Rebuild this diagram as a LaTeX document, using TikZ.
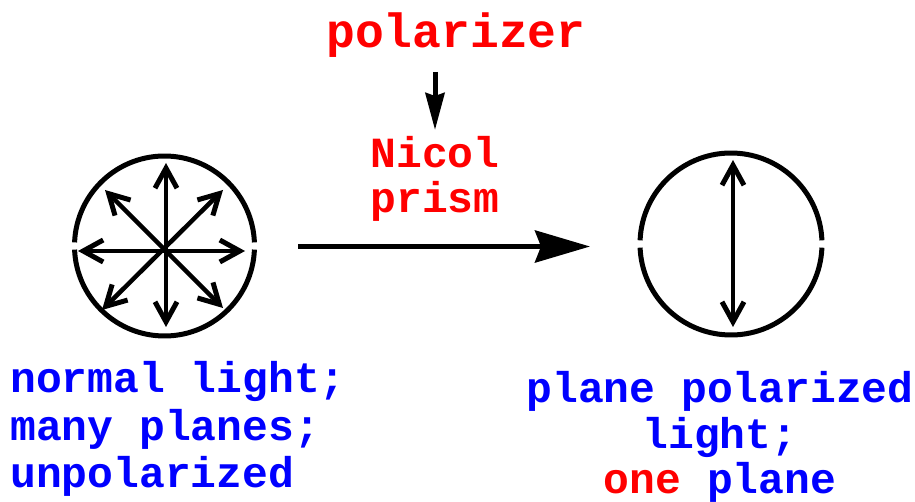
\documentclass[tikz,border=0pt]{standalone}
\usepackage{fontspec}
\setmainfont{Liberation Mono}
\usetikzlibrary{arrows.meta}
\definecolor{pblue}{RGB}{0,0,255}
\definecolor{pred}{RGB}{255,0,0}
\tikzset{
  lbl/.style={inner sep=0pt, font=\bfseries\fontsize{43}{47}\selectfont},
  bluelbl/.style={lbl, text=pblue},
  redlbl/.style={lbl, text=pred},
  ring/.style={line width=5pt, line cap=butt},
  ray/.style={line width=4.5pt, {Straight Barb[length=20pt,width=22pt,line width=5pt]}-{Straight Barb[length=20pt,width=22pt,line width=5pt]}},
  bigarrow/.style={line width=5pt, -{Stealth[length=55pt,width=32pt,inset=6pt]}},
  smallarrow/.style={line width=5pt, -{Stealth[length=37pt,width=19pt,inset=3pt]}}
}
\begin{document}
\begin{tikzpicture}[x=1pt,y=-1pt]
\useasboundingbox (0,0) rectangle (915,502);
% left circle
\coordinate (lc) at (164.5,246);
\draw[ring] (lc) ++(2.3:90) arc[start angle=2.3, end angle=177.7, radius=90];
\draw[ring] (lc) ++(182.3:90) arc[start angle=182.3, end angle=357.7, radius=90];
\coordinate (lt) at (166,163); \coordinate (lb) at (166,327);
\coordinate (ll) at (78,251); \coordinate (lr) at (245,251);
\coordinate (lnw) at (105,190); \coordinate (lse) at (223,308);
\coordinate (lne) at (223,190); \coordinate (lsw) at (102,310);
\draw[ray] (lt) -- (lb);
\draw[ray] (ll) -- (lr);
\draw[ray] (lnw) -- (lse);
\draw[ray] (lne) -- (lsw);
% right circle
\coordinate (rc) at (731,244);
\draw[ring] (rc) ++(2.3:91) arc[start angle=2.3, end angle=177.7, radius=91];
\draw[ring] (rc) ++(182.3:91) arc[start angle=182.3, end angle=357.7, radius=91];
\coordinate (rt) at (733,160); \coordinate (rb) at (733,327);
\draw[ray] (rt) -- (rb);
% main arrow
\coordinate (ms) at (298,246.5); \coordinate (me) at (590,246.5);
\draw[bigarrow] (ms) -- (me);
% top labels
\node[redlbl, anchor=base, font=\bfseries\fontsize{48}{50}\selectfont] (pol) at (456,48) {polarizer};
\coordinate (ps) at (435,72); \coordinate (pe) at (435,130);
\draw[smallarrow] (ps) -- (pe);
\node[redlbl, anchor=base] (nicol) at (435,168) {Nicol};
\node[redlbl, anchor=base] (prism) at (435,213) {prism};
% left labels
\node[bluelbl, anchor=base west] (l1) at (10,392) {normal light;};
\node[bluelbl, anchor=base west] (l2) at (10,440) {many planes;};
\node[bluelbl, anchor=base west] (l3) at (10,487) {unpolarized};
% right labels
\node[bluelbl, anchor=base] (r1) at (720,402) {plane polarized};
\node[bluelbl, anchor=base] (r2) at (720,448) {light;};
\node[bluelbl, anchor=base] (r3) at (720,493) {{\color{pred}one} plane};
\end{tikzpicture}
\end{document}
